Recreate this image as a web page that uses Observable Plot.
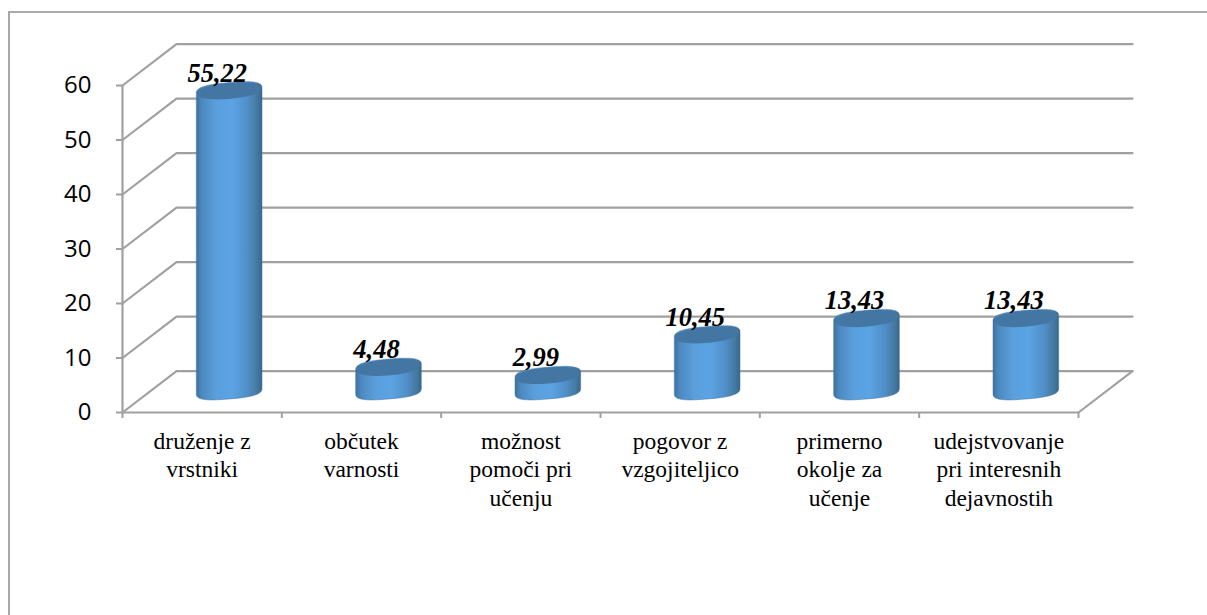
<!DOCTYPE html>
<html>
<head>
<meta charset="utf-8">
<script src="https://cdn.jsdelivr.net/npm/d3@7"></script>
<script src="https://cdn.jsdelivr.net/npm/@observablehq/plot@0.6"></script>
<style>
html,body{margin:0;padding:0;background:#fff;overflow:hidden}
#wrap{position:relative;width:1207px;height:615px}
#border{position:absolute;left:8px;top:11px;right:0;bottom:0;border-left:2px solid #a9a9a9;border-top:2px solid #a9a9a9}
#wrap svg{position:absolute;left:0;top:0;background:transparent}
</style>
</head>
<body>
<div id="wrap"><div id="border"></div></div>
<script>
const categories = ["druženje z\nvrstniki","občutek\nvarnosti","možnost\npomoči pri\nučenju","pogovor z\nvzgojiteljico","primerno\nokolje za\nučenje","udejstvovanje\npri interesnih\ndejavnostih"];
const values = [55.22,4.48,2.99,10.45,13.43,13.43];
const valueLabels = ["55,22","4,48","2,99","10,45","13,43","13,43"];
const yTicks = [0,10,20,30,40,50,60];
const xTicks = [0,1,2,3,4,5,6];

// 3D box depth and cylinder proportions, in data units
const depthX = 0.339, depthY = 7.6;
const radX = 0.206, radY = 1.52, tilt = 0.5;

const grid = yTicks.flatMap(t => [
  {k:t,x:0,y:t},{k:t,x:depthX,y:t+depthY},{k:t,x:6+depthX,y:t+depthY}
]);
const floor = [{x:0,y:0},{x:6,y:0},{x:6+depthX,y:depthY}];
const wall = [{x:0,y:0},{x:0,y:60}];

const sp = (v,e) => Math.sign(v)*Math.pow(Math.abs(v),e);
const steps = d3.range(0,61).map(i => i/60*Math.PI);
function ring(cx,cy,t,e,k=1){ // point on a sheared super-ellipse
  const u = sp(Math.cos(t),e), v = sp(Math.sin(t),e);
  return {x:cx+k*radX*u, y:cy+k*radY*v+k*tilt*u};
}
const bodies = values.flatMap((v,i) => {
  const cx = i+0.5+depthX/2, b = depthY/2+0.2, top = v+depthY/2;
  return [
    ...steps.map(t => ({i,...ring(cx,top,Math.PI-t,0.72)})),
    ...steps.map(t => ({i,...ring(cx,b,-t,0.7)}))
  ];
});
const caps = values.flatMap((v,i) => {
  const cx = i+0.5+depthX/2, top = v+depthY/2;
  return d3.range(0,120).map(k => ({i,...ring(cx,top,k/120*2*Math.PI,0.92,0.97)}));
});
const barIndex = values.map((v,i)=>i);
const gridColor = "#a0a0a0";

const plot = Plot.plot({
  width:1207, height:615,
  marginLeft:122, marginRight:129, marginTop:85, marginBottom:203,
  x:{type:"linear",domain:[0,6]},
  y:{domain:[0,60]},
  style:{background:"transparent"},
  marks:[
    Plot.line(grid,{x:"x",y:"y",z:"k",stroke:gridColor,strokeWidth:2.2}),
    Plot.line(floor,{x:"x",y:"y",stroke:gridColor,strokeWidth:2.2}),
    Plot.line(wall,{x:"x",y:"y",stroke:gridColor,strokeWidth:2.2}),
    Plot.axisY({ticks:yTicks,tickSize:6,tickPadding:25,label:null,stroke:gridColor,strokeWidth:2,strokeOpacity:1,
      fontSize:24,fontFamily:"'Open Sans'",color:"#000",fill:"#000",tickFormat:d=>d}),
    Plot.axisX({ticks:xTicks,tickSize:6,tickFormat:()=>"",label:null,stroke:gridColor,strokeWidth:2,strokeOpacity:1}),
    Plot.line(bodies,{x:"x",y:"y",z:"i",curve:"linear-closed",fill:"url(#cyl)",stroke:"#3f74a3",strokeWidth:1,strokeOpacity:0.5}),
    Plot.line(caps,{x:"x",y:"y",z:"i",curve:"linear-closed",fill:"#4476a4",stroke:"none"}),
    Plot.text(categories,{x:(d,i)=>i+0.5,y:0,text:d=>d,dy:16,lineAnchor:"top",lineHeight:1.21,
      fontFamily:"'Liberation Serif'",fontSize:23.5,fill:"#000"}),
    Plot.text(barIndex,{x:i=>i+0.5+depthX/2-0.075,y:i=>values[i]+depthY/2+3.26,text:i=>valueLabels[i],
      fontFamily:"'Liberation Serif'",fontSize:26.5,fontWeight:"bold",fontStyle:"italic",fill:"#000"})
  ]
});
const defs = d3.select(plot).insert("defs",":first-child");
const g = defs.append("linearGradient").attr("id","cyl").attr("x1",0).attr("x2",1).attr("y1",0).attr("y2",0);
[[0,"#3d719f"],[0.08,"#4c88bd"],[0.3,"#5a9fdd"],[0.55,"#5ca3e4"],[0.78,"#508ec7"],[0.93,"#44799f"],[1,"#38678f"]]
  .forEach(([o,c])=>g.append("stop").attr("offset",o).attr("stop-color",c));
document.getElementById("wrap").appendChild(plot);
</script>
</body>
</html>
